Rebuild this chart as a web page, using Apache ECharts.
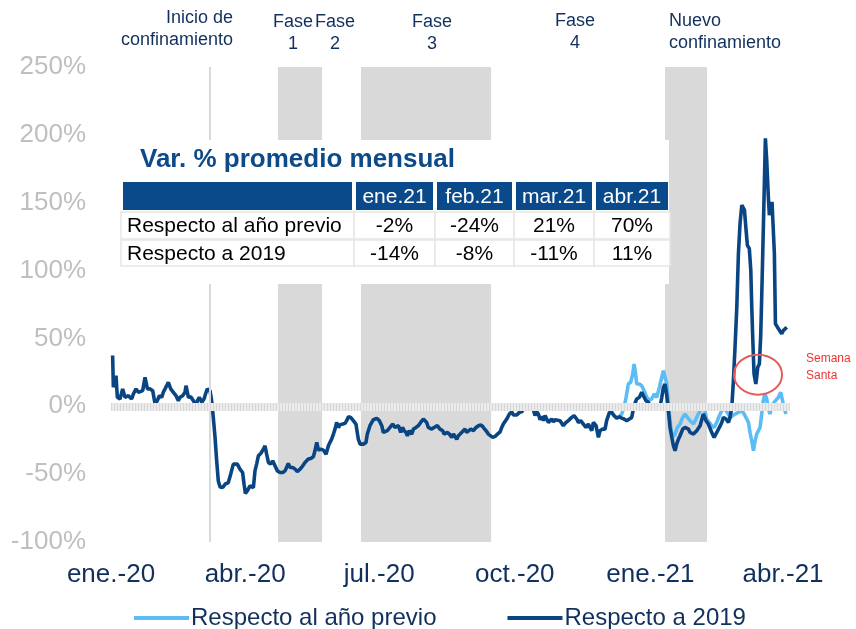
<!DOCTYPE html>
<html>
<head>
<meta charset="utf-8">
<script src="https://cdn.jsdelivr.net/npm/echarts@6/dist/echarts.min.js"></script>
<style>
html,body{margin:0;padding:0;background:#fff;}
#chart{width:856px;height:629px;}
</style>
</head>
<body>
<div id="chart"></div>
<script>
// x values: days since 1 Jan 2020
const xLabelDays = [0, 91, 182, 274, 366, 456];
const xLabels = ['ene.-20', 'abr.-20', 'jul.-20', 'oct.-20', 'ene.-21', 'abr.-21'];

const seriesNames = ['Respecto al año previo', 'Respecto a 2019'];

const respecto2019 = [
[1.1,37.4],[1.6,14.0],[3.4,22.6],[4.3,6.6],[6.1,5.4],[7.9,12.8],[9.5,6.6],[11.8,7.8],[14.0,5.4],[15.2,9.1],[17.0,12.8],[18.6,10.3],[19.7,9.1],[21.5,11.5],[23.1,21.4],[24.7,12.8],[26.5,12.8],[28.3,11.5],[29.9,1.7],[31.4,4.1],[32.8,7.8],[34.4,6.6],[35.5,10.3],[36.6,9.1],[37.8,15.2],[38.9,17.7],[40.5,12.8],[42.3,10.3],[44.1,7.8],[45.7,4.1],[46.8,6.6],[48.6,7.8],[50.2,10.3],[50.9,15.2],[52.5,6.6],[54.1,7.1],[55.9,4.1],[57.7,0.4],[58.6,4.1],[59.9,6.6],[61.5,2.9],[63.1,5.4],[64.5,10.3],[65.4,12.8],[67.2,11.5],[68.3,4.1],[69.4,-8.2],[70.6,-22.9],[71.7,-40.2],[72.8,-55.0],[74.0,-59.4],[75.8,-59.9],[77.4,-57.4],[79.6,-56.2],[81.2,-50.0],[83.0,-42.6],[84.1,-41.4],[85.7,-42.6],[87.5,-46.3],[89.3,-48.8],[90.3,-57.4],[91.2,-64.3],[92.5,-62.3],[94.3,-58.6],[95.5,-57.4],[96.6,-59.9],[97.7,-47.6],[98.8,-42.6],[100.0,-36.5],[101.6,-34.8],[103.4,-31.6],[104.5,-29.1],[105.6,-35.3],[106.8,-41.4],[108.3,-42.6],[109.7,-40.2],[111.3,-43.9],[112.9,-47.6],[114.7,-48.8],[116.5,-48.8],[118.1,-47.6],[119.2,-46.3],[120.3,-42.2],[121.5,-45.1],[123.3,-45.1],[124.9,-46.3],[126.4,-48.1],[128.3,-46.3],[130.1,-43.9],[131.6,-41.4],[133.9,-38.9],[135.5,-38.5],[137.3,-37.2],[138.4,-32.8],[139.6,-26.6],[140.7,-32.3],[142.3,-31.6],[144.1,-32.3],[145.9,-35.3],[147.5,-29.1],[148.6,-26.6],[149.7,-24.2],[150.9,-20.5],[152.0,-16.8],[153.1,-11.9],[154.3,-15.6],[155.4,-13.6],[157.2,-13.1],[158.8,-12.6],[159.9,-10.6],[161.1,-7.7],
[162.6,-8.2],[164.4,-10.6],[166.2,-13.1],[167.8,-24.2],[169.0,-27.9],[171.2,-27.9],[173.0,-26.6],[173.9,-20.5],[175.7,-14.3],[178.0,-9.9],[180.3,-8.9],[182.1,-10.6],[183.7,-14.3],[184.8,-19.3],[185.9,-20.5],[187.5,-18.0],[189.3,-15.6],[191.1,-13.1],[192.7,-15.6],[193.8,-16.8],[195.0,-14.3],[196.6,-19.3],[197.9,-15.6],[198.8,-18.0],[200.2,-19.3],[201.1,-21.7],[202.4,-18.0],[204.0,-20.5],[205.2,-16.8],[207.0,-15.6],[208.5,-14.3],[210.1,-11.9],[211.9,-9.4],[213.1,-8.2],[214.2,-11.9],[215.3,-15.6],[216.5,-14.3],[217.6,-16.8],[219.2,-15.6],[220.5,-16.8],[221.4,-14.3],[223.2,-16.8],[225.1,-18.0],[226.0,-20.5],[227.3,-21.7],[228.2,-19.3],[229.6,-20.5],[231.2,-22.9],[232.3,-20.5],[233.4,-21.7],[234.6,-24.2],[235.7,-21.7],[236.8,-21.2],[237.9,-19.3],[239.1,-18.0],[240.2,-16.8],[241.3,-19.3],[242.5,-18.0],[244.1,-16.8],[245.9,-18.0],[247.7,-15.6],[249.3,-14.3],[250.8,-13.8],[252.2,-14.8],[253.1,-16.3],[254.5,-18.0],[256.0,-20.5],[257.2,-21.7],[259.0,-22.9],[260.6,-22.2],[262.2,-20.5],[264.0,-18.8],[265.1,-15.6],[266.2,-13.1],[267.4,-11.9],[268.5,-9.4],[270.3,-5.7],[271.9,-4.0],[273.0,-6.4],[274.1,-5.7],[275.3,-6.4],[277.1,-4.5],[278.7,-4.0],[279.8,-2.0],[280.9,-0.8],[282.1,-1.5],[283.2,-2.0],[284.3,-1.5],[285.4,-2.0],[286.6,-2.5],[287.7,-6.9],[288.8,-4.0],[290.0,-5.7],[291.1,-9.9],[292.2,-7.4],[293.4,-10.6],[294.5,-6.9],[295.6,-8.2],[296.8,-11.9],[297.9,-10.6],[299.0,-9.4],[300.2,-11.4],[301.3,-9.9],[302.4,-10.6],
[304.7,-10.6],[306.9,-14.3],[308.7,-11.9],[310.3,-10.6],[312.6,-8.2],[314.2,-6.9],[316.0,-9.4],[317.1,-11.9],[318.7,-10.6],[320.5,-13.1],[322.3,-15.6],[323.9,-13.1],[325.0,-15.6],[326.2,-18.0],[327.3,-11.9],[329.1,-14.3],[330.7,-22.9],[331.8,-18.0],[333.6,-16.8],[335.2,-16.8],[336.3,-10.6],[338.2,-4.5],[339.7,-4.5],[341.3,-6.9],[343.1,-8.7],[344.9,-7.7],[346.5,-8.7],[348.1,-9.4],[349.9,-10.6],[351.7,-9.4],[353.3,-8.2],[354.9,0.4],[356.7,5.4],[358.5,6.6],[360.1,10.3],[361.2,7.8],[363.0,4.1],[364.6,2.9],[366.2,-0.8],[368.0,-2.0],[369.1,-0.8],[370.3,-2.0],[371.4,-3.2],[372.5,-0.8],[373.7,6.6],[374.8,14.0],[375.9,16.4],[377.1,7.8],[378.2,-3.2],[379.3,-15.6],[380.5,-22.9],[381.6,-29.1],[382.7,-32.8],[383.8,-27.9],[385.0,-24.2],[386.1,-21.7],[387.9,-16.8],[389.5,-15.6],[391.8,-16.8],
[392.9,-19.3],[395.2,-20.5],[397.4,-18.0],[399.7,-14.3],[401.9,-5.7],[403.7,-10.6],[405.3,-13.1],[407.6,-19.3],[409.2,-22.9],[411.0,-19.3],[412.8,-15.6],[414.4,-11.9],[415.5,-8.2],[417.3,-9.4],[418.9,-11.9],[420.0,-8.2],[421.2,-0.8],[422.3,18.9],[423.4,43.5],[424.6,73.1],[425.7,112.5],[426.8,134.6],[428.0,148.2],[429.1,149.4],[429.8,144.5],[430.9,129.7],[431.8,118.6],[433.1,116.2],[434.1,100.2],[434.7,75.5],[435.4,50.9],[436.3,23.8],[437.5,16.4],[438.1,21.4],[438.8,28.8],[439.9,31.2],[440.8,50.9],[441.5,80.5],[442.2,112.5],[443.1,154.3],[444.0,197.4],[444.9,181.4],[446.0,154.3],[446.7,140.8],[447.6,140.8],[448.5,150.6],[449.4,149.4],[450.1,112.5],[450.8,60.8],[452.2,58.3],[453.5,57.1],[455.1,53.4],[456.2,55.8],[458.5,58.3]
];

const respectoPrevio = [
[343.1,-8.7],[344.9,-7.7],[346.5,-5.7],[348.1,-0.8],[349.5,6.6],[351.0,16.4],[352.6,17.7],[354.0,23.8],[354.9,31.2],[355.8,25.1],[356.7,16.4],[358.5,16.4],[360.1,15.2],[361.7,11.5],[363.5,6.6],[365.3,4.6],[366.9,5.4],[368.5,9.1],[370.3,6.6],[372.1,14.0],[373.7,21.4],[374.8,26.3],[375.9,25.1],[377.1,16.4],[378.2,1.7],[379.8,-15.6],[381.1,-22.9],[382.7,-20.5],[384.3,-15.6],[386.1,-13.1],[387.9,-8.2],[389.5,-5.7],[391.1,-8.2],[392.9,-10.6],[395.2,-13.1],[397.4,-8.2],[399.7,-3.2],[401.9,0.4],[403.0,-3.2],[404.1,-9.4],[405.9,-11.9],[407.6,-14.3],[409.2,-15.6],[411.0,-11.9],[412.8,-6.9],[414.4,-3.2],[416.0,-0.8],[417.3,-3.2],[418.9,-5.7],[420.0,-8.2],[421.2,-6.9],[423.4,-5.7],[425.7,-4.5],[428.0,-3.2],[429.6,-5.7],[430.9,-4.5],[432.5,-11.9],[433.6,-19.3],[434.7,-25.4],[435.9,-32.8],[437.0,-25.4],[438.1,-20.5],[439.2,-21.7],[440.4,-15.6],[441.5,-5.7],[442.6,4.1],[443.7,9.1],[444.9,5.4],[446.0,-2.0],[447.1,-5.7],[448.2,-0.8],[449.9,2.9],[451.2,1.7],[452.8,6.6],[454.4,10.3],[455.7,11.5],[456.6,-0.8],[458.0,-5.7]
];

// shaded periods (start day, end day)
const phaseBands = [[113.3, 143.2], [169.6, 257.9], [375.9, 404.4]];
const lockdownStartDay = 67.2;

// table
const tableTitle = 'Var. % promedio mensual';
const tableCols = ['ene.21', 'feb.21', 'mar.21', 'abr.21'];
const tableRowLabels = ['Respecto al año previo', 'Respecto a 2019'];
const tableRowPrevio = ['-2%', '-24%', '21%', '70%'];
const tableRow2019 = ['-14%', '-8%', '-11%', '11%'];

const FONT = '"Liberation Sans", Arial, sans-serif';
const NAVY = '#12305d';
const DARK = '#0a4583';
const LIGHT = '#5cbcf6';

const chart = echarts.init(document.getElementById('chart'));

const option = {
  animation: false,
  grid: { left: 111, right: 66, top: 67, bottom: 87 },
  legend: {
    data: seriesNames,
    left: 129, top: 601,
    icon: 'rect', itemWidth: 55, itemHeight: 4, itemGap: 71,
    textStyle: { fontSize: 24, color: NAVY, fontFamily: FONT, padding: [0, 0, 0, -3] }
  },
  xAxis: {
    type: 'value', min: 0, max: 460.7,
    axisLine: { show: false }, axisTick: { show: false }, splitLine: { show: false },
    axisLabel: {
      customValues: xLabelDays,
      formatter: function (v) { const i = xLabelDays.indexOf(v); return i >= 0 ? xLabels[i] : ''; },
      fontSize: 26, color: NAVY, fontFamily: FONT, margin: 20
    }
  },
  yAxis: {
    type: 'value', min: -100, max: 250, interval: 50,
    axisLine: { show: false }, axisTick: { show: false }, splitLine: { show: false },
    axisLabel: { formatter: '{value}%', fontSize: 26, color: '#bfbfbf', fontFamily: FONT, margin: 25 }
  },
  series: [
    {
      name: '_bg', type: 'line', data: [], z: 1, silent: true,
      markArea: {
        silent: true,
        itemStyle: { color: '#d9d9d9' },
        data: phaseBands.map(b => [{ xAxis: b[0] }, { xAxis: b[1] }])
      },
      markLine: {
        silent: true, symbol: 'none', label: { show: false }, animation: false,
        data: [
          { xAxis: lockdownStartDay, lineStyle: { color: '#d9d9d9', width: 2, type: 'solid' } },
          { yAxis: 0, lineStyle: { color: '#ebebeb', width: 8, type: 'solid' } },
          { yAxis: 0, lineStyle: { color: '#d8d8d8', width: 8, type: [1, 2] } }
        ]
      }
    },
    {
      name: seriesNames[0], type: 'line', data: respectoPrevio, z: 3,
      showSymbol: false, symbol: 'none', color: LIGHT,
      lineStyle: { color: LIGHT, width: 3.6 }
    },
    {
      name: seriesNames[1], type: 'line', data: respecto2019, z: 4,
      showSymbol: false, symbol: 'none', color: DARK,
      lineStyle: { color: DARK, width: 3.6 }
    }
  ]
};
chart.setOption(option);

// ---------- overlay graphics ----------
const g = [];
function txt(text, x, y, opt) {
  g.push({ type: 'text', z: 110, silent: true, style: Object.assign({
    text: text, x: x, y: y, fill: NAVY, fontFamily: FONT, fontSize: 18,
    align: 'center', verticalAlign: 'top', lineHeight: 22 }, opt || {}) });
}
// top annotations
txt('Inicio de\nconfinamiento', 233, 7, { align: 'right' });
txt('Fase\n1', 293, 11);
txt('Fase\n2', 335, 11);
txt('Fase\n3', 432, 11);
txt('Fase\n4', 575, 10);
txt('Nuevo\nconfinamiento', 669, 10, { align: 'left' });

// table
const TBL = { boxX: 110, boxY: 140, boxW: 559, boxH: 144 };
g.push({ type: 'rect', z: 100, silent: true, shape: { x: TBL.boxX, y: TBL.boxY, width: TBL.boxW, height: TBL.boxH }, style: { fill: '#ffffff' } });
txt(tableTitle, 140, 160, { align: 'left', verticalAlign: 'middle', fontSize: 26, fontWeight: 'bold', fill: '#0c4a8a', lineHeight: 30 });
const colX = [[123, 352], [356, 433], [437, 512], [516, 592], [596, 668]];
const rowY = [[182, 210], [212, 239], [240, 266]];
const HDR = '#0a4a8a';
colX.forEach((c, i) => {
  g.push({ type: 'rect', z: 101, silent: true, shape: { x: c[0], y: rowY[0][0], width: c[1] - c[0], height: rowY[0][1] - rowY[0][0] }, style: { fill: HDR } });
  if (i > 0) txt(tableCols[i - 1], (c[0] + c[1]) / 2, (rowY[0][0] + rowY[0][1]) / 2 + 1, { verticalAlign: 'middle', fill: '#ffffff', fontSize: 21 });
});
const bodyRows = [tableRowPrevio, tableRow2019];
bodyRows.forEach((row, r) => {
  const ry = rowY[r + 1];
  colX.forEach((c, i) => {
    g.push({ type: 'rect', z: 101, silent: true, shape: { x: c[0] - 2, y: ry[0], width: c[1] - c[0] + 4, height: ry[1] - ry[0] }, style: { fill: '#ffffff', stroke: '#e6e6e6', lineWidth: 1.5 } });
    const cy = (ry[0] + ry[1]) / 2 + 1;
    if (i === 0) txt(tableRowLabels[r], c[0] + 4, cy, { align: 'left', verticalAlign: 'middle', fill: '#000000', fontSize: 21 });
    else txt(row[i - 1], (c[0] + c[1]) / 2, cy, { verticalAlign: 'middle', fill: '#000000', fontSize: 21 });
  });
});

// Semana Santa annotation
const ssCenter = chart.convertToPixel({ gridIndex: 0 }, [439, 23.3]);
g.push({ type: 'ellipse', z: 110, silent: true, shape: { cx: ssCenter[0], cy: ssCenter[1], rx: 24, ry: 20 }, style: { fill: 'none', stroke: '#e85a5a', lineWidth: 2 } });
txt('Semana\nSanta', 806, 350, { align: 'left', fontSize: 12, lineHeight: 17, fill: '#ee3333' });

chart.setOption({ graphic: g });
</script>
</body>
</html>
